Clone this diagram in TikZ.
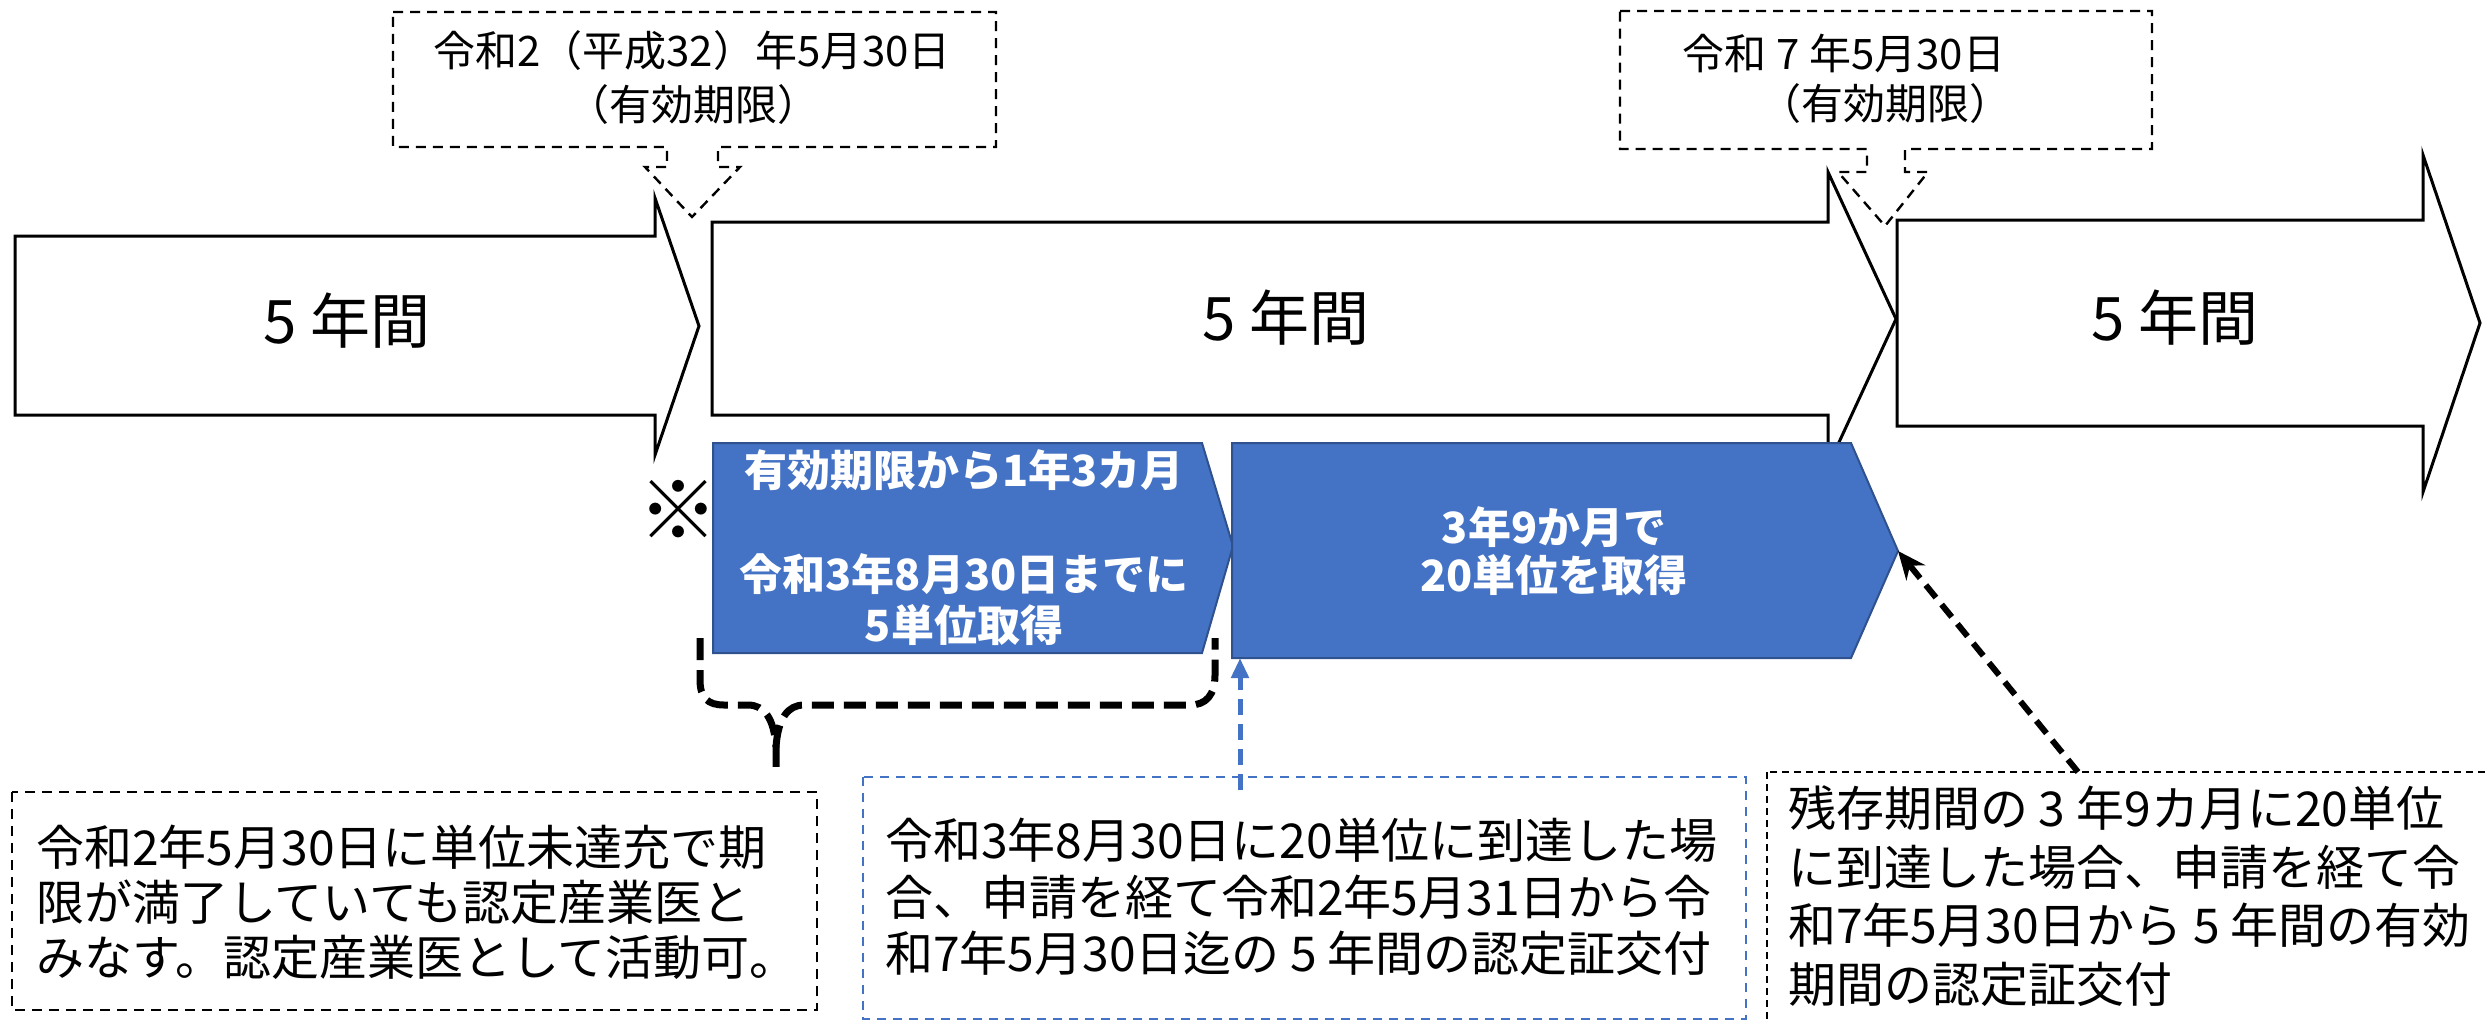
\documentclass[tikz,border=0pt]{standalone}
\usepackage{fontspec}
\setmainfont{Noto Sans CJK JP}
\usetikzlibrary{arrows.meta}
\definecolor{blueF}{HTML}{4472C4}
\definecolor{blueD}{HTML}{2F528F}
\begin{document}
\begin{tikzpicture}[x=1pt,y=-1pt,
  bigarrow/.style={draw=black, line width=3pt, fill=white, line join=miter},
  bluebox/.style={fill=blueF, draw=blueD, line width=2pt, line join=miter},
  callout/.style={draw=black, line width=2.4pt, dash pattern=on 10pt off 7pt},
  noteL/.style={draw=black, line width=2.5pt, dash pattern=on 10pt off 7pt},
  noteM/.style={draw=blueF, line width=2.5pt, dash pattern=on 9pt off 7pt},
  noteR/.style={draw=black, line width=2pt, dash pattern=on 7pt off 5pt},
  bracketline/.style={draw=black, line width=7pt, dash pattern=on 22pt off 10pt},
  bluelink/.style={draw=blueF, line width=5pt, dash pattern=on 16pt off 9pt, -{Triangle[width=17pt,length=20pt]}},
  blacklink/.style={draw=black, line width=6pt, dash pattern=on 16pt off 9pt, -{Stealth[width=24pt,length=28pt]}},
  bigtxt/.style={font=\fontsize{60pt}{60pt}\selectfont, inner sep=0pt},
  calltxt/.style={font=\fontsize{42pt}{50pt}\selectfont, inner sep=0pt},
  boldtxt/.style={font=\bfseries\fontsize{43pt}{50pt}\selectfont, text=white, align=center, inner sep=0pt},
  notetxt/.style={align=left, inner sep=0pt, anchor=west}
]
\useasboundingbox (0,0) rectangle (2486,1023);
\clip (0,0) rectangle (2486,1023);

% big period arrows
\draw[bigarrow] (15,236) -- (655,236) -- (655,198) -- (699,326) -- (655,455) -- (655,415) -- (15,415) -- cycle;
\draw[bigarrow] (712,222) -- (1828,222) -- (1828,172) -- (1896,319) -- (1828,466) -- (1828,415) -- (712,415) -- cycle;
\draw[bigarrow] (1897,220) -- (2423,220) -- (2423,155) -- (2480,323) -- (2423,492) -- (2423,426) -- (1897,426) -- cycle;
\node[bigtxt] (a1) at (347,321) {5 年間};
\node[bigtxt] (a2) at (1286,318) {5 年間};
\node[bigtxt] (a3) at (2175,318) {5 年間};

% blue stage boxes
\draw[bluebox] (713,443) -- (1202,443) -- (1233,546) -- (1202,653) -- (713,653) -- cycle;
\draw[bluebox] (1232,443) -- (1851,443) -- (1898,551) -- (1851,658) -- (1232,658) -- cycle;
\coordinate (b2bl) at (1240,658);
\coordinate (b2tip) at (1898,551);
\node[boldtxt] (b1a) at (964,470) {有効期限から1年3カ月};
\node[boldtxt, font=\bfseries\fontsize{43pt}{51pt}\selectfont] (b1b) at (964,600) {令和3年8月30日までに\\5単位取得};
\node[boldtxt, font=\bfseries\fontsize{43pt}{48pt}\selectfont] (b2) at (1554,551) {3年9か月で\\20単位を取得};

\node[inner sep=0pt, font=\fontsize{80pt}{80pt}\selectfont] (kome) at (678,510) {※};

% callouts
\draw[callout] (393,12) -- (996,12) -- (996,147) -- (718,147) -- (718,167) -- (740,167) -- (692,217) -- (645,167) -- (667,167) -- (667,147) -- (393,147) -- cycle;
\node[calltxt] (c1a) at (692,51) {令和2（平成32）年5月30日};
\node[calltxt] (c1b) at (693,105) {（有効期限）};
\draw[callout] (1620,11) -- (2152,11) -- (2152,149) -- (1905,149) -- (1905,172) -- (1928,172) -- (1885,226) -- (1838,172) -- (1867,172) -- (1867,149) -- (1620,149) -- cycle;
\node[calltxt] (c2a) at (1844,53) {令和 7 年5月30日};
\node[calltxt] (c2b) at (1885,104) {（有効期限）};

% bracket under the first stage
\draw[bracketline] (700,638) -- (700,680) .. controls (700,698) and (708,705) .. (724,705) -- (748,705) .. controls (764,705) and (774,718) .. (776,747) -- (776,770);
\draw[bracketline] (776,747) .. controls (778,718) and (788,705) .. (804,705) -- (1190,705) .. controls (1206,705) and (1215,695) .. (1215,675) -- (1215,638);

% note boxes
\draw[noteL] (12,792) rectangle (817,1010);
\node[notetxt, font=\fontsize{48pt}{55pt}\selectfont] (nL) at (36,902) {令和2年5月30日に単位未達充で期\\限が満了していても認定産業医と\\みなす。認定産業医として活動可。};
\draw[noteM] (863,777) rectangle (1746,1019);
\coordinate (nMtop) at (1240,790);
\node[notetxt, font=\fontsize{48pt}{56.5pt}\selectfont] (nM) at (885,897) {令和3年8月30日に20単位に到達した場\\合、申請を経て令和2年5月31日から令\\和7年5月30日迄の 5 年間の認定証交付};
\draw[noteR] (1767,772) rectangle (2500,1040);
\coordinate (nRtop) at (2078,772);
\node[notetxt, font=\fontsize{48pt}{58.5pt}\selectfont] (nR) at (1788,896) {残存期間の 3 年9カ月に20単位\\に到達した場合、申請を経て令\\和7年5月30日から 5 年間の有効\\期間の認定証交付};

% connectors
\draw[bluelink] (nMtop) -- (b2bl);
\draw[blacklink] (nRtop) -- (b2tip);
\end{tikzpicture}
\end{document}
